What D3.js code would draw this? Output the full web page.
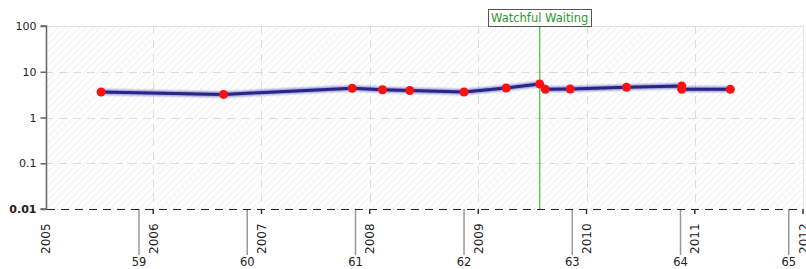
<!DOCTYPE html>
<html><head><meta charset="utf-8">
<script src="https://cdn.jsdelivr.net/npm/d3@7/dist/d3.min.js"></script>
<style>
body{margin:0;background:#fff;}
svg{display:block;font-family:"DejaVu Sans",Verdana,sans-serif;}
</style></head>
<body><svg id="c" width="806" height="269"></svg>
<script>
const dates = ["2005-07-09","2006-08-26","2007-11-03","2008-02-13","2008-05-15","2008-11-14","2009-04-05","2009-07-27","2009-08-15","2009-11-07","2010-05-16","2010-11-18","2010-11-18","2011-05-01"];
const values = [3.6,3.2,4.35,4.05,3.9,3.6,4.42,5.4,4.13,4.2,4.57,4.88,4.13,4.13];
const yTicks = [0.01,0.1,1,10,100];
const yTickLabels = ["0.01","0.1","1","10","100"];
const yearTicks = [2005,2006,2007,2008,2009,2010,2011,2012];
const ageTicks = [59,60,61,62,63,64,65];
const birthDate = "1946-11-14";
const eventDate = "2009-07-27";
const eventLabel = "Watchful Waiting";

const svg = d3.select("#c");
const parse = d3.timeParse("%Y-%m-%d");
const L=45, R=803, T=26, B=209;
const x = d3.scaleTime().domain([new Date(2005,0,1), new Date(2012,0,1)]).range([L,R]);
const y = d3.scaleLog().domain([0.01,100]).range([B,T]);

// hatch pattern
const defs = svg.append("defs");
const pat = defs.append("pattern").attr("id","hatch").attr("patternUnits","userSpaceOnUse")
  .attr("width",5).attr("height",5).attr("patternTransform","rotate(45)");
pat.append("rect").attr("width",5).attr("height",5).attr("fill","#fff");
pat.append("line").attr("x1",0).attr("y1",0).attr("x2",0).attr("y2",5).attr("stroke","#ededed").attr("stroke-width",1.5);
const blur = defs.append("filter").attr("id","glow").attr("x","-5%").attr("y","-50%").attr("width","110%").attr("height","200%");
blur.append("feGaussianBlur").attr("stdDeviation",1);

svg.append("rect").attr("x",L).attr("y",T).attr("width",R-L).attr("height",B-T).attr("fill","url(#hatch)");
// top and right borders
svg.append("line").attr("x1",L).attr("x2",R).attr("y1",T+0.5).attr("y2",T+0.5).attr("stroke","#e2e2e2");
svg.append("line").attr("x1",R+0.5).attr("x2",R+0.5).attr("y1",T).attr("y2",B).attr("stroke","#e2e2e2");

// horizontal grid
svg.append("g").selectAll("line").data(yTicks.filter(d=>d>0.01 && d<100)).join("line")
  .attr("x1",L).attr("x2",R).attr("y1",d=>Math.round(y(d))+0.5).attr("y2",d=>Math.round(y(d))+0.5)
  .attr("stroke","#dcdcdc").attr("stroke-dasharray","8,6");
// vertical grid
svg.append("g").selectAll("line").data(yearTicks.filter(d=>d>2005&&d<2012)).join("line")
  .attr("x1",d=>Math.round(x(new Date(d,0,1)))+0.5).attr("x2",d=>Math.round(x(new Date(d,0,1)))+0.5)
  .attr("y1",T).attr("y2",B).attr("stroke","#dcdcdc").attr("stroke-dasharray","8,6");

// y axis
const yAxis = d3.axisLeft(y).tickValues(yTicks).tickFormat((d,i)=>yTickLabels[i]).tickSize(6).tickPadding(4);
const ya = svg.append("g").attr("transform",`translate(${L+1.5},0)`).call(yAxis);
ya.select(".domain").attr("stroke","#666").attr("stroke-width",1.5).attr("d",`M-6,${T}H0V${B}H-6`);
ya.selectAll(".tick line").attr("stroke","#666").attr("stroke-width",1.5);
ya.selectAll(".tick text").attr("font-size",11).attr("fill","#222").attr("font-family","DejaVu Sans, sans-serif")
  .attr("font-weight",d=>d===0.01?"bold":"normal");

// event line
const ex = x(parse(eventDate));
svg.append("line").attr("x1",ex).attr("x2",ex).attr("y1",27).attr("y2",B).attr("stroke","#66c266").attr("stroke-width",1.5);

// age axis
const birth = parse(birthDate);
const ageDate = a => d3.timeYear.offset(birth, a);
const ag = svg.append("g");
ag.selectAll("line").data(ageTicks).join("line")
  .attr("x1",a=>x(ageDate(a))).attr("x2",a=>x(ageDate(a))).attr("y1",B).attr("y2",255)
  .attr("stroke","#999").attr("stroke-width",1.5);
ag.selectAll("text").data(ageTicks).join("text")
  .attr("x",a=>x(ageDate(a))).attr("y",266).attr("text-anchor","middle").attr("font-size",11.5).attr("fill","#222").text(a=>a);

// bottom dashed baseline
svg.append("line").attr("x1",L+2).attr("x2",R).attr("y1",B+0.5).attr("y2",B+0.5).attr("stroke","#222").attr("stroke-width",1.2).attr("stroke-dasharray","8,6");

// year axis
const yg = svg.append("g");
yg.selectAll("line").data(yearTicks.filter(d=>d>2005)).join("line")
  .attr("x1",d=>x(new Date(d,0,1))).attr("x2",d=>x(new Date(d,0,1))).attr("y1",B).attr("y2",214)
  .attr("stroke","#333").attr("stroke-width",1.5);
yg.selectAll("text").data(yearTicks).join("text")
  .attr("transform",d=>`translate(${x(new Date(d,0,1))+4.5},254) rotate(-90)`)
  .attr("text-anchor","start").attr("font-size",12).attr("fill","#222").text(d=>d);

// series
const pts = dates.map((d,i)=>({d:parse(d),v:values[i]}));
const line = d3.line().x(p=>x(p.d)).y(p=>y(p.v));
svg.append("path").datum(pts).attr("d",line).attr("fill","none").attr("stroke","#4848b0").attr("stroke-width",5.5).attr("opacity",0.6).attr("filter","url(#glow)");
svg.append("path").datum(pts).attr("d",line).attr("fill","none").attr("stroke","#262688").attr("stroke-width",3).attr("stroke-linejoin","round");
svg.append("g").selectAll("circle").data(pts).join("circle")
  .attr("cx",p=>x(p.d)).attr("cy",p=>y(p.v)).attr("r",4.5).attr("fill","#ff1010");

// event label
const lbl = svg.append("g");
lbl.append("rect").attr("x",488.5).attr("y",9.5).attr("width",103).attr("height",17).attr("fill","#fff").attr("stroke","#555");
lbl.append("text").attr("x",ex).attr("y",22).attr("text-anchor","middle").attr("font-size",11.5).attr("fill","#2a9a2a").text(eventLabel);
</script></body></html>
